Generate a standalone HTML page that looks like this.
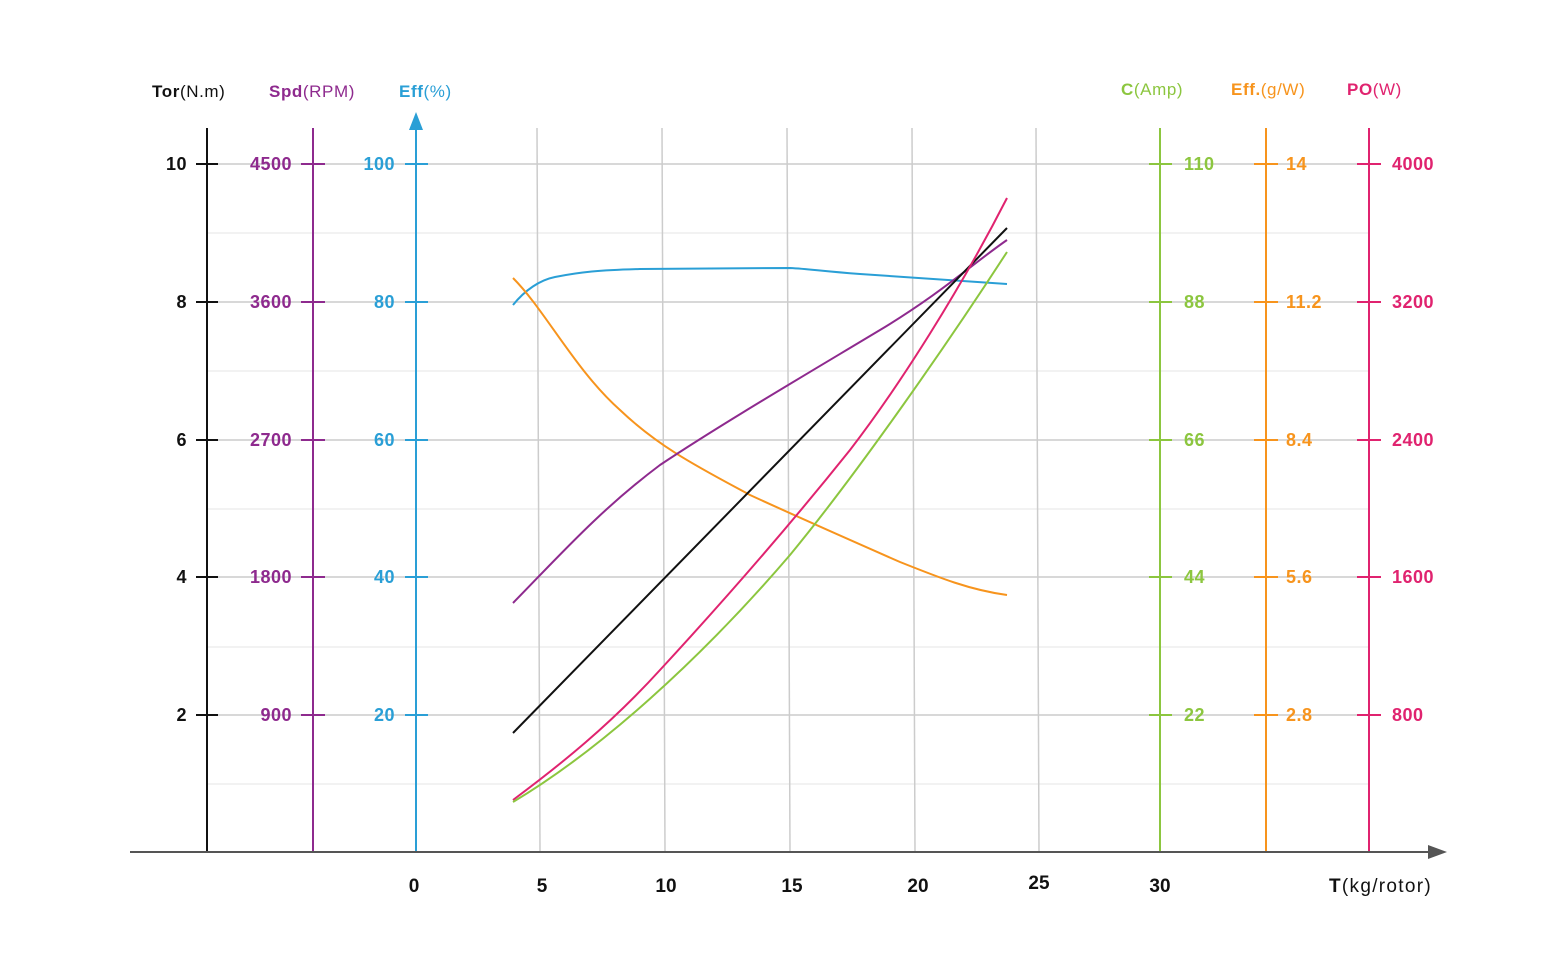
<!DOCTYPE html>
<html><head><meta charset="utf-8"><style>
body{margin:0;background:#fff}
svg{display:block;font-family:"Liberation Sans",sans-serif}
</style></head><body>
<svg width="1563" height="974" viewBox="0 0 1563 974" xmlns="http://www.w3.org/2000/svg">
<g stroke="#eeeeee" stroke-width="1.5">
<line x1="207" y1="233" x2="1369" y2="233"/><line x1="207" y1="371" x2="1369" y2="371"/>
<line x1="207" y1="509" x2="1369" y2="509"/><line x1="207" y1="647" x2="1369" y2="647"/>
<line x1="207" y1="784" x2="1369" y2="784"/>
</g>
<g stroke="#cccccc" stroke-width="1.5">
<line x1="207" y1="164" x2="1369" y2="164"/><line x1="207" y1="302" x2="1369" y2="302"/>
<line x1="207" y1="440" x2="1369" y2="440"/><line x1="207" y1="577" x2="1369" y2="577"/>
<line x1="207" y1="715" x2="1369" y2="715"/>
<line x1="537" y1="128" x2="540" y2="852"/><line x1="662" y1="128" x2="665" y2="852"/>
<line x1="787" y1="128" x2="790" y2="852"/><line x1="912" y1="128" x2="915" y2="852"/>
<line x1="1036" y1="128" x2="1039" y2="852"/>
</g>
<g stroke-width="2">
<line x1="207" y1="128" x2="207" y2="852" stroke="#111"/>
<line x1="313" y1="128" x2="313" y2="852" stroke="#8e2a8e"/>
<line x1="416" y1="125" x2="416" y2="852" stroke="#2a9fd6"/>
<line x1="1160" y1="128" x2="1160" y2="852" stroke="#8cc63f"/>
<line x1="1266" y1="128" x2="1266" y2="852" stroke="#f7941d"/>
<line x1="1369" y1="128" x2="1369" y2="852" stroke="#e0236f"/>
<line x1="130" y1="852" x2="1435" y2="852" stroke="#555"/>
</g>
<polygon points="416,112 409,130 423,130" fill="#2a9fd6"/>
<polygon points="1447,852 1428,845 1428,859" fill="#555"/>
<g stroke-width="2">
<g stroke="#111"><line x1="196" y1="164" x2="218" y2="164"/><line x1="196" y1="302" x2="218" y2="302"/><line x1="196" y1="440" x2="218" y2="440"/><line x1="196" y1="577" x2="218" y2="577"/><line x1="196" y1="715" x2="218" y2="715"/></g>
<g stroke="#8e2a8e"><line x1="301" y1="164" x2="325" y2="164"/><line x1="301" y1="302" x2="325" y2="302"/><line x1="301" y1="440" x2="325" y2="440"/><line x1="301" y1="577" x2="325" y2="577"/><line x1="301" y1="715" x2="325" y2="715"/></g>
<g stroke="#2a9fd6"><line x1="405" y1="164" x2="428" y2="164"/><line x1="405" y1="302" x2="428" y2="302"/><line x1="405" y1="440" x2="428" y2="440"/><line x1="405" y1="577" x2="428" y2="577"/><line x1="405" y1="715" x2="428" y2="715"/></g>
<g stroke="#8cc63f"><line x1="1149" y1="164" x2="1172" y2="164"/><line x1="1149" y1="302" x2="1172" y2="302"/><line x1="1149" y1="440" x2="1172" y2="440"/><line x1="1149" y1="577" x2="1172" y2="577"/><line x1="1149" y1="715" x2="1172" y2="715"/></g>
<g stroke="#f7941d"><line x1="1254" y1="164" x2="1278" y2="164"/><line x1="1254" y1="302" x2="1278" y2="302"/><line x1="1254" y1="440" x2="1278" y2="440"/><line x1="1254" y1="577" x2="1278" y2="577"/><line x1="1254" y1="715" x2="1278" y2="715"/></g>
<g stroke="#e0236f"><line x1="1357" y1="164" x2="1381" y2="164"/><line x1="1357" y1="302" x2="1381" y2="302"/><line x1="1357" y1="440" x2="1381" y2="440"/><line x1="1357" y1="577" x2="1381" y2="577"/><line x1="1357" y1="715" x2="1381" y2="715"/></g>
</g>
<g fill="none" stroke-width="2">
<path stroke="#2a9fd6" d="M513,305 C525,290 540,280 555,277 C580,272 600,270 640,269 L790,268 C810,269 820,271 860,274 L1007,284"/>
<path stroke="#f7941d" d="M513,278 C545,310 575,370 620,410 C660,448 700,468 750,495 C800,518 850,540 900,562 C940,578 970,590 1007,595"/>
<path stroke="#8e2a8e" d="M513,603 C560,555 600,510 660,465 C720,425 800,378 880,330 C940,294 975,262 1007,240"/>
<path stroke="#111" d="M513,733 L1007,228"/>
<path stroke="#e0236f" d="M513,800 C560,765 610,725 660,670 C720,605 790,525 850,450 C900,385 960,290 1007,198"/>
<path stroke="#8cc63f" d="M513,802 C600,750 700,660 790,555 C860,470 950,340 1007,252"/>
</g>
<g font-size="17" letter-spacing="0.6">
<text x="152" y="97" fill="#111"><tspan font-weight="bold">Tor</tspan>(N.m)</text>
<text x="269" y="97" fill="#8e2a8e"><tspan font-weight="bold">Spd</tspan>(RPM)</text>
<text x="399" y="97" fill="#2a9fd6"><tspan font-weight="bold">Eff</tspan>(%)</text>
<text x="1121" y="95" fill="#8cc63f"><tspan font-weight="bold">C</tspan>(Amp)</text>
<text x="1231" y="95" fill="#f7941d"><tspan font-weight="bold">Eff.</tspan>(g/W)</text>
<text x="1347" y="95" fill="#e0236f"><tspan font-weight="bold">PO</tspan>(W)</text>
</g>
<g font-size="18" font-weight="bold" text-anchor="end" letter-spacing="0.5">
<g fill="#111"><text x="187" y="170">10</text><text x="187" y="308">8</text><text x="187" y="446">6</text><text x="187" y="583">4</text><text x="187" y="721">2</text></g>
<g fill="#8e2a8e"><text x="292" y="170">4500</text><text x="292" y="308">3600</text><text x="292" y="446">2700</text><text x="292" y="583">1800</text><text x="292" y="721">900</text></g>
<g fill="#2a9fd6"><text x="395" y="170">100</text><text x="395" y="308">80</text><text x="395" y="446">60</text><text x="395" y="583">40</text><text x="395" y="721">20</text></g>
</g>
<g font-size="18" font-weight="bold" letter-spacing="0.5">
<g fill="#8cc63f"><text x="1184" y="170">110</text><text x="1184" y="308">88</text><text x="1184" y="446">66</text><text x="1184" y="583">44</text><text x="1184" y="721">22</text></g>
<g fill="#f7941d"><text x="1286" y="170">14</text><text x="1286" y="308">11.2</text><text x="1286" y="446">8.4</text><text x="1286" y="583">5.6</text><text x="1286" y="721">2.8</text></g>
<g fill="#e0236f"><text x="1392" y="170">4000</text><text x="1392" y="308">3200</text><text x="1392" y="446">2400</text><text x="1392" y="583">1600</text><text x="1392" y="721">800</text></g>
</g>
<g font-size="19" font-weight="bold" fill="#111" text-anchor="middle">
<text x="414" y="892">0</text><text x="542" y="892">5</text><text x="666" y="892">10</text><text x="792" y="892">15</text><text x="918" y="892">20</text><text x="1039" y="889">25</text><text x="1160" y="892">30</text>
</g>
<text x="1329" y="892" font-size="19" fill="#111" letter-spacing="1.3"><tspan font-weight="bold">T</tspan>(kg/rotor)</text>
</svg>
</body></html>
